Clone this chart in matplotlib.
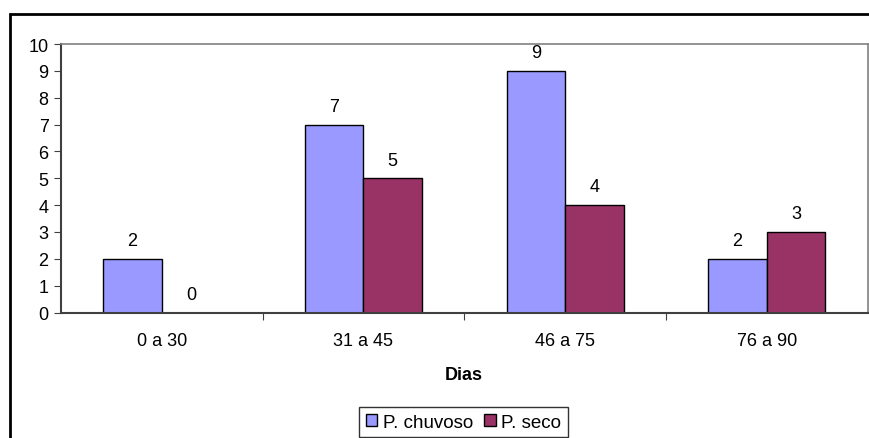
import numpy as np
import matplotlib.pyplot as plt
from matplotlib.patches import Rectangle

plt.rcParams['font.family'] = ['Liberation Sans', 'DejaVu Sans']

categorias = ['0 a 30', '31 a 45', '46 a 75', '76 a 90']
chuvoso = [2, 7, 9, 2]
seco = [0, 5, 4, 3]

W, H = 869, 439
fig = plt.figure(figsize=(W/100, H/100), dpi=100)

# outer chart frame (cut at right and bottom)
fig.patches.append(Rectangle((10/W, -0.1), 1.2, 1 - 15/H + 0.1, transform=fig.transFigure,
                             fill=False, edgecolor='black', linewidth=2))

ax = fig.add_axes([61/W, 1 - 313.5/H, (867.5 - 61)/W, (313.5 - 45)/H])

x = np.arange(len(categorias))
bw = 0.29
b1 = ax.bar(x - bw/2, chuvoso, bw, color='#9999FF', edgecolor='black', linewidth=1, label='P. chuvoso')
b2 = ax.bar(x + bw/2, seco, bw, color='#993366', edgecolor='black', linewidth=1, label='P. seco')

for bars, vals in ((b1, chuvoso), (b2, seco)):
    for r, v in zip(bars, vals):
        ax.annotate(str(v), (r.get_x() + r.get_width()/2, v), xytext=(0, 7),
                    textcoords='offset points', ha='center', va='bottom', fontsize=13)

ax.set_xlim(-0.5, 3.5)
ax.set_ylim(0, 10)
ax.set_yticks(range(0, 11))
ax.set_xticks([0.5, 1.5, 2.5], minor=False)
ax.set_xticklabels([])
ax.set_xticks(x, minor=True)
ax.set_xticklabels(categorias, minor=True, fontsize=13)
ax.tick_params(axis='x', which='minor', length=0, pad=14)
ax.tick_params(axis='x', which='major', length=5, direction='out', color='#404040')
ax.tick_params(axis='y', length=5, direction='out', color='#404040', labelsize=13, pad=4)

for s in ('top', 'right'):
    ax.spines[s].set_color('#808080')
    ax.spines[s].set_linewidth(1.2)
for s in ('left', 'bottom'):
    ax.spines[s].set_color('#404040')
    ax.spines[s].set_linewidth(1.5)

ax.set_xlabel('Dias', fontweight='bold', fontsize=13, labelpad=12)

leg = fig.legend(loc='upper center', bbox_to_anchor=(463.5/W, 1 - 408/H), ncol=2,
                 frameon=True, fancybox=False, edgecolor='black', fontsize=13.5,
                 handlelength=0.6, handleheight=0.6, handletextpad=0.3, columnspacing=0.6,
                 borderpad=0.35, borderaxespad=0)
leg.get_frame().set_linewidth(1)

fig.savefig('out.png', dpi=100)
